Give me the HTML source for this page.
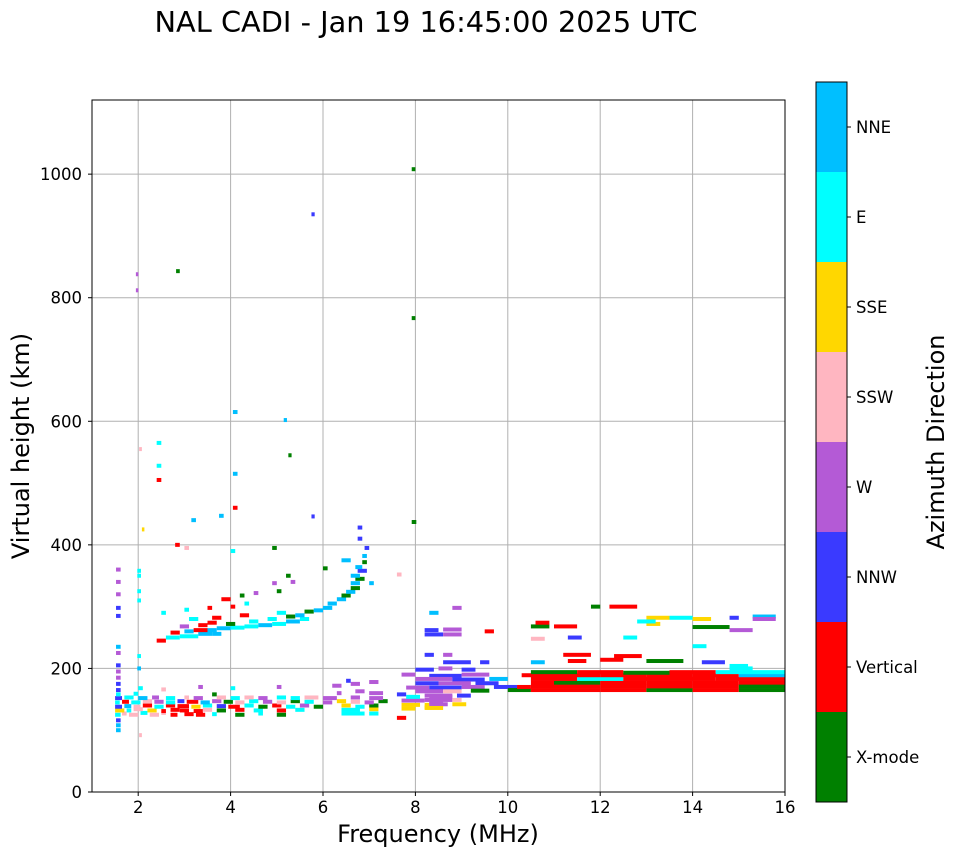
<!DOCTYPE html>
<html><head><meta charset="utf-8">
<style>
body{margin:0;background:#fff;}
svg text{font-family:"DejaVu Sans","Liberation Sans",sans-serif;}
</style></head>
<body>
<svg id="chart" width="958" height="857" xmlns="http://www.w3.org/2000/svg">
<text x="426" y="32" font-size="28.8" text-anchor="middle">NAL CADI - Jan 19 16:45:00 2025 UTC</text>
<g id="grid"></g>
<g id="marks"></g>
<rect x="92" y="100" width="693" height="692" fill="none" stroke="#000" stroke-width="1"/>
<g id="axes"></g>
<text x="438" y="842" font-size="24" text-anchor="middle">Frequency (MHz)</text>
<text transform="translate(29,446) rotate(-90)" font-size="24" text-anchor="middle">Virtual height (km)</text>
<g id="cbar"></g>
<text transform="translate(944,442) rotate(-90)" font-size="24" text-anchor="middle">Azimuth Direction</text>
</svg>
<script>
const categories=["X-mode","Vertical","NNW","W","SSW","SSE","E","NNE"];
const catColors=["#008000","#ff0000","#3a3aff","#b45ad6","#ffb6c1","#ffd700","#00ffff","#00bfff"];
const xTicks=[2,4,6,8,10,12,14,16];
const yTicks=[0,200,400,600,800,1000];
// segments: [freqStart, freqEnd, heightKm, categoryIndex]
const segments=[
[1.52,1.62,100,7],[1.52,1.62,108,7],[1.52,1.62,116,2],[2.02,2.08,92,4],
[1.5,1.62,125,6],[1.65,1.75,127,4],[1.8,2.0,125,4],[2.05,2.2,128,6],[2.25,2.45,125,4],[2.5,2.6,128,4],[2.7,2.85,125,1],[3.0,3.2,126,1],[3.25,3.45,125,1],[3.6,3.7,126,6],[4.1,4.3,125,0],[4.6,4.7,127,6],[5.0,5.2,125,0],[6.4,6.9,127,6],[7.0,7.2,127,6],[7.6,7.8,120,1],
[1.5,1.7,132,5],[1.75,1.85,132,6],[1.9,2.1,134,4],[2.2,2.4,132,5],[2.5,2.6,131,1],[2.7,2.9,133,1],[2.9,3.1,132,1],[3.2,3.4,131,1],[3.4,3.6,133,4],[3.7,3.9,132,0],[4.1,4.3,133,1],[4.5,4.7,132,6],[5.0,5.2,132,1],[5.4,5.6,133,6],[6.4,6.8,133,6],[7.0,7.2,134,5],[7.7,8.0,135,5],[8.2,8.4,137,5],
[1.5,1.65,138,2],[1.7,1.85,139,7],[1.9,2.05,138,4],[2.1,2.3,140,1],[2.35,2.55,138,6],[2.6,2.8,140,1],[2.85,3.1,139,1],[3.15,3.35,138,5],[3.4,3.6,140,6],[3.7,3.9,139,2],[3.95,4.2,138,1],[4.3,4.5,140,6],[4.6,4.8,138,0],[4.9,5.1,140,1],[5.2,5.4,138,6],[5.5,5.7,140,3],[5.8,6.0,138,0],[6.4,6.6,140,5],[6.7,6.9,138,6],[7.0,7.2,140,0],[7.7,8.1,141,5],[8.2,8.6,141,5],
[1.5,1.6,145,6],[1.65,1.8,146,1],[1.85,2.05,145,6],[2.1,2.3,147,4],[2.35,2.55,146,3],[2.6,2.8,145,6],[2.85,3.0,147,2],[3.05,3.3,146,1],[3.35,3.55,145,7],[3.6,3.8,147,3],[3.85,4.05,146,0],[4.1,4.3,145,4],[4.4,4.6,147,6],[4.7,4.9,146,3],[5.0,5.2,145,4],[5.3,5.5,147,0],[5.6,5.8,146,6],[6.0,6.2,145,3],[6.3,6.5,147,5],[6.6,6.8,146,4],[6.9,7.1,145,3],[7.2,7.4,147,0],[7.7,8.2,148,3],[8.3,8.6,146,3],
[1.5,1.65,152,2],[1.7,1.9,153,6],[2.0,2.2,152,7],[2.3,2.45,153,3],[2.6,2.8,152,6],[3.0,3.1,153,4],[3.2,3.4,152,3],[3.7,3.9,153,4],[4.0,4.2,152,6],[4.3,4.5,153,4],[4.6,4.8,152,3],[5.0,5.2,153,6],[5.3,5.5,152,6],[5.6,5.9,153,4],[6.0,6.3,152,3],[6.6,6.8,153,3],[7.0,7.3,152,3],[7.8,8.1,154,6],[8.3,8.8,154,3],
[1.52,1.62,158,6],[1.9,2.0,159,6],[3.6,3.7,158,0],[6.3,6.4,160,3],[7.0,7.3,160,3],[6.7,6.9,163,3],[7.6,7.8,158,2],
[1.52,1.62,165,2],[2.0,2.1,168,6],[2.5,2.6,166,4],[3.3,3.4,170,3],[4.0,4.1,168,6],[5.0,5.1,170,3],[6.2,6.4,172,3],[6.6,6.8,175,3],[7.0,7.2,178,3],[6.5,6.6,180,2],
[1.52,1.62,175,2],[1.52,1.62,185,3],[1.52,1.62,195,3],[1.52,1.62,205,2],[1.52,1.62,225,3],[1.52,1.62,235,7],
[1.52,1.62,285,2],[1.52,1.62,298,2],[1.52,1.62,320,3],[1.52,1.62,340,3],[1.52,1.62,360,3],[1.98,2.06,310,6],[1.98,2.06,325,6],[1.98,2.06,350,6],[1.98,2.06,358,6],[1.98,2.06,200,7],[1.98,2.06,220,6],
[2.4,2.6,245,1],[2.6,2.9,250,6],[2.9,3.3,252,6],[3.3,3.6,256,7],[3.6,3.8,256,7],[2.7,2.9,258,1],[3.0,3.2,260,7],[3.2,3.5,262,1],[3.5,3.7,262,7],[3.7,4.0,265,7],[4.0,4.3,266,6],[4.3,4.6,268,6],[4.6,4.9,270,7],[4.9,5.2,272,6],[5.2,5.5,276,7],[5.5,5.7,280,6],
[2.9,3.1,268,3],[3.3,3.5,270,1],[3.5,3.7,274,1],[3.9,4.1,272,0],[4.4,4.6,276,6],[4.8,5.0,280,6],[5.2,5.4,284,0],[5.4,5.6,286,7],[3.1,3.3,280,6],[3.6,3.8,282,1],[4.2,4.4,286,1],[5.0,5.2,290,6],[5.6,5.8,292,0],
[5.8,6.0,294,7],[6.0,6.2,298,7],[6.1,6.3,305,7],[6.3,6.5,312,7],[6.4,6.6,318,0],[6.5,6.7,324,7],[6.6,6.8,330,0],[6.6,6.8,338,7],[6.7,6.9,345,0],[6.6,6.8,350,7],[6.75,6.95,358,2],[6.7,6.85,364,7],[6.85,6.95,372,0],[6.85,6.95,382,7],[6.9,7.0,395,2],[6.75,6.85,410,2],[6.75,6.85,428,2],
[2.5,2.6,290,6],[3.0,3.1,295,6],[3.5,3.6,298,1],[4.0,4.1,300,1],[4.3,4.4,305,6],[3.8,4.0,312,1],[4.2,4.3,318,0],[4.5,4.6,322,3],[5.0,5.1,325,0],[4.9,5.0,338,3],[5.2,5.3,350,0],[6.0,6.1,362,0],[6.4,6.6,375,7],[5.3,5.4,340,3],[7.0,7.1,338,7],
[1.95,2.0,838,3],[1.95,2.0,812,3],[2.82,2.9,843,0],[5.75,5.82,935,2],[7.92,8.0,1008,0],[7.92,8.0,767,0],[4.05,4.15,615,7],[5.15,5.22,602,7],[2.02,2.08,555,4],[2.4,2.5,565,6],[2.4,2.5,528,6],[2.4,2.5,505,1],[4.05,4.15,515,7],[4.05,4.15,460,1],[3.75,3.85,447,7],[5.25,5.32,545,0],[7.92,8.02,437,0],[3.15,3.25,440,7],[2.08,2.12,425,5],[5.75,5.82,446,2],[2.8,2.9,400,1],[3.0,3.1,395,4],[4.0,4.1,390,6],[4.9,5.0,395,0],[7.6,7.7,352,4],
[8.0,8.4,198,2],[8.5,8.8,200,3],[9.0,9.3,198,2],[7.7,8.0,190,3],[8.3,9.0,188,2],[9.0,9.6,190,3],[8.0,8.8,183,3],[8.8,9.5,182,2],[9.6,10.0,183,7],[8.0,8.5,176,2],[8.5,9.2,176,3],[9.3,9.8,176,2],[7.8,8.3,169,3],[8.3,9.0,169,2],[9.0,9.5,170,3],[9.7,10.2,170,2],[8.0,8.6,163,3],[8.6,9.0,163,4],[9.2,9.6,164,0],[8.2,8.8,156,3],[8.9,9.2,156,2],[8.2,8.8,149,3],[8.8,9.0,149,4],[8.3,8.7,142,3],[8.8,9.1,142,5],[8.2,8.6,136,5],
[8.6,9.2,210,2],[9.4,9.6,210,2],[8.2,8.4,222,2],[8.6,8.8,222,3],[8.2,8.6,255,2],[8.6,9.0,255,3],[8.2,8.5,262,2],[8.6,9.0,263,3],[8.3,8.5,290,7],[8.8,9.0,298,3],[9.5,9.7,260,1],
[10.0,10.5,165,0],[10.5,11.0,165,1],[11.0,12.0,165,1],[12.0,13.0,165,1],[13.0,14.0,165,0],[14.0,15.0,165,1],[15.0,16.0,165,0],
[10.2,10.5,170,1],[10.5,12.0,171,1],[12.0,13.0,171,1],[13.0,14.0,171,1],[14.0,15.0,171,1],[15.0,16.0,171,0],
[10.5,11.0,177,1],[11.0,12.0,177,0],[12.0,13.0,177,1],[13.0,14.0,177,1],[14.0,15.0,177,1],[15.0,16.0,177,1],
[10.5,11.5,183,1],[11.5,12.5,183,6],[12.5,13.5,183,1],[13.5,14.5,183,1],[14.5,16.0,183,1],
[10.3,11.0,189,1],[11.0,12.0,189,1],[12.0,13.0,189,1],[13.0,14.0,189,1],[14.0,15.0,189,1],[15.0,16.0,189,7],
[10.5,11.5,194,0],[11.5,12.5,194,1],[12.5,13.5,193,0],[13.5,14.5,194,1],[14.5,16.0,194,6],[14.8,15.3,200,6],
[10.5,10.8,210,7],[11.3,11.7,212,1],[12.0,12.5,214,1],[13.0,13.8,212,0],[14.2,14.7,210,2],[14.8,15.2,204,6],
[11.2,11.8,222,1],[12.3,12.9,220,1],[10.5,10.8,248,4],[11.3,11.6,250,2],[12.5,12.8,250,6],[14.0,14.3,236,6],
[10.5,10.9,268,0],[11.0,11.5,268,1],[14.0,14.8,267,0],[14.8,15.3,262,3],[10.6,10.9,274,1],[13.0,13.3,272,5],
[13.0,13.5,282,5],[13.5,14.0,282,6],[14.0,14.4,280,5],[14.8,15.0,282,2],[15.3,15.8,284,7],[15.3,15.8,280,3],
[11.8,12.0,300,0],[12.2,12.8,300,1],[12.8,13.2,276,6]
];
const NS="http://www.w3.org/2000/svg";
const X0=92,X1=785,Y0=792,Y1=100,FMIN=1,FMAX=16,HMAX=1120;
function xs(f){return X0+(f-FMIN)/(FMAX-FMIN)*(X1-X0);}
function ys(h){return Y0-h/HMAX*(Y0-Y1);}
function mk(tag,attrs,parent){const e=document.createElementNS(NS,tag);for(const k in attrs)e.setAttribute(k,attrs[k]);parent.appendChild(e);return e;}
const grid=document.getElementById('grid'),axes=document.getElementById('axes'),marks=document.getElementById('marks'),cbar=document.getElementById('cbar');
xTicks.forEach(t=>{
  const x=xs(t);
  if(t<FMAX){const g=mk('line',{x1:x,x2:x,y1:Y1,y2:Y0,stroke:'#b0b0b0','stroke-width':1},grid);
  
  }
  const tk=mk('line',{x1:x,x2:x,y1:Y0,y2:Y0+4,stroke:'#000'},axes);
  
  
  const tx=mk('text',{x:x,y:Y0+21,'font-size':16.5,'text-anchor':'middle'},axes);
  tx.textContent=t;
  
  
});
yTicks.forEach(t=>{
  const y=ys(t);
  if(t>0){const g=mk('line',{x1:X0,x2:X1,y1:y,y2:y,stroke:'#b0b0b0','stroke-width':1},grid);
  
  }
  const tk=mk('line',{x1:X0-4,x2:X0,y1:y,y2:y,stroke:'#000'},axes);
  
  
  const tx=mk('text',{x:X0-10,y:y+6,'font-size':16.5,'text-anchor':'end'},axes);
  tx.textContent=t;
  
  
});
segments.forEach(s=>{
  const x=xs(s[0]),w=Math.max(xs(s[1])-x,2.5);
  const r=mk('rect',{x:x,y:ys(s[2])-2,width:w,height:4,fill:catColors[s[3]]},marks);
  
  
});
const CX=816,CW=31,CT=82,CB=802,bh=(CB-CT)/categories.length;
categories.forEach((c,i)=>{
  const y=CB-(i+1)*bh;
  const r=mk('rect',{x:CX,y:y,width:CW,height:bh,fill:catColors[i]},cbar);
  
  
  const tk=mk('line',{x1:CX+CW,x2:CX+CW+4,y1:y+bh/2,y2:y+bh/2,stroke:'#000'},cbar);
  
  
  const t=mk('text',{x:CX+CW+9,y:y+bh/2+6,'font-size':16.5},cbar);
  t.textContent=c;
  
  
});
const fr=mk('rect',{x:CX,y:CT,width:CW,height:CB-CT,fill:'none',stroke:'#000'},cbar);


</script>
</body></html>
